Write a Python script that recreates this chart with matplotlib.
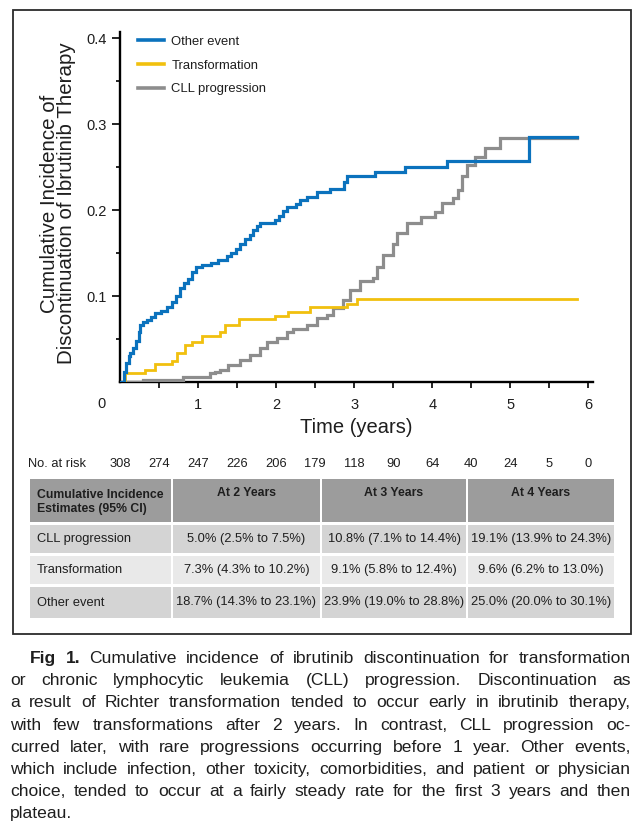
import matplotlib
matplotlib.use("Agg")
import matplotlib.pyplot as plt
import matplotlib.transforms as mtransforms
from matplotlib.patches import Rectangle
from matplotlib.lines import Line2D

# ---------------- data ----------------
other_t = [0, 0.05, 0.08, 0.11, 0.13, 0.17, 0.20, 0.24, 0.26, 0.30, 0.34, 0.40, 0.45, 0.52, 0.60,
           0.66, 0.72, 0.77, 0.82, 0.87, 0.92, 0.98, 1.05, 1.17, 1.25, 1.37, 1.42, 1.48, 1.54, 1.60,
           1.66, 1.71, 1.76, 1.80, 1.99, 2.04, 2.09, 2.14, 2.25, 2.31, 2.40, 2.52, 2.69, 2.87, 2.91,
           3.27, 3.65, 4.19, 5.24, 5.86]
other_v = [0, 0.012, 0.022, 0.030, 0.034, 0.040, 0.048, 0.058, 0.066, 0.070, 0.072, 0.076, 0.080,
           0.083, 0.087, 0.093, 0.100, 0.109, 0.115, 0.120, 0.128, 0.134, 0.136, 0.138, 0.142, 0.146,
           0.150, 0.155, 0.161, 0.166, 0.171, 0.177, 0.181, 0.185, 0.188, 0.193, 0.199, 0.204, 0.207,
           0.212, 0.215, 0.221, 0.225, 0.232, 0.239, 0.244, 0.250, 0.257, 0.285, 0.285]

transf_t = [0, 0.06, 0.32, 0.45, 0.66, 0.73, 0.83, 0.92, 1.05, 1.28, 1.35, 1.52, 1.99, 2.15, 2.44,
            2.91, 3.04, 5.86]
transf_v = [0, 0.010, 0.014, 0.021, 0.024, 0.034, 0.043, 0.047, 0.053, 0.058, 0.066, 0.073, 0.077,
            0.081, 0.087, 0.091, 0.096, 0.096]

cll_t = [0, 0.30, 0.81, 1.15, 1.22, 1.28, 1.39, 1.54, 1.67, 1.80, 1.88, 2.01, 2.14, 2.22, 2.39,
         2.52, 2.65, 2.73, 2.86, 2.95, 3.08, 3.24, 3.29, 3.37, 3.50, 3.55, 3.68, 3.85, 4.04, 4.13,
         4.27, 4.33, 4.38, 4.44, 4.55, 4.68, 4.87, 5.86]
cll_v = [0, 0.002, 0.006, 0.010, 0.012, 0.014, 0.020, 0.026, 0.031, 0.039, 0.047, 0.051, 0.058,
         0.062, 0.066, 0.074, 0.078, 0.086, 0.095, 0.107, 0.118, 0.121, 0.134, 0.148, 0.161, 0.173,
         0.185, 0.192, 0.198, 0.208, 0.214, 0.223, 0.240, 0.252, 0.262, 0.272, 0.284, 0.284]

series_names = ["Other event", "Transformation", "CLL progression"]

risk_times = [0, 0.5, 1, 1.5, 2, 2.5, 3, 3.5, 4, 4.5, 5, 5.5, 6]
risk_counts = [308, 274, 247, 226, 206, 179, 118, 90, 64, 40, 24, 5, 0]

x_ticks = [1, 2, 3, 4, 5, 6]
y_ticks = [0.1, 0.2, 0.3, 0.4]

table_header = ["Cumulative Incidence\nEstimates (95% CI)", "At 2 Years", "At 3 Years", "At 4 Years"]
table_rows = ["CLL progression", "Transformation", "Other event"]
table_cells = [
    ["5.0% (2.5% to 7.5%)", "10.8% (7.1% to 14.4%)", "19.1% (13.9% to 24.3%)"],
    ["7.3% (4.3% to 10.2%)", "9.1% (5.8% to 12.4%)", "9.6% (6.2% to 13.0%)"],
    ["18.7% (14.3% to 23.1%)", "23.9% (19.0% to 28.8%)", "25.0% (20.0% to 30.1%)"],
]

caption_lines = [
    "Fig 1. Cumulative incidence of ibrutinib discontinuation for transformation",
    "or chronic lymphocytic leukemia (CLL) progression. Discontinuation as",
    "a result of Richter transformation tended to occur early in ibrutinib therapy,",
    "with few transformations after 2 years. In contrast, CLL progression oc-",
    "curred later, with rare progressions occurring before 1 year. Other events,",
    "which include infection, other toxicity, comorbidities, and patient or physician",
    "choice, tended to occur at a fairly steady rate for the first 3 years and then",
    "plateau.",
]

# ---------------- style ----------------
FONT = ["Liberation Sans", "DejaVu Sans"]
BLUE = "#0b72bd"
YELLOW = "#f1c00e"
GRAY = "#8d8d8d"
TXT = "#1e1e1e"

W, H = 640, 831
fig = plt.figure(figsize=(W / 100, H / 100), dpi=100)

ov = fig.add_axes([0, 0, 1, 1], zorder=0)
ov.set_xlim(0, W)
ov.set_ylim(H, 0)
ov.axis("off")

def px_rect(x0, y0, x1, y1):
    return [x0 / W, 1 - y1 / H, (x1 - x0) / W, (y1 - y0) / H]

ax = fig.add_axes(px_rect(120, 32, 593, 382), zorder=2)
ax.patch.set_alpha(0)

ax.step(cll_t, cll_v, where="post", color=GRAY, lw=2.3, solid_joinstyle="miter", zorder=3)
ax.step(transf_t, transf_v, where="post", color=YELLOW, lw=2.0, solid_joinstyle="miter", zorder=4)
ax.step(other_t, other_v, where="post", color=BLUE, lw=2.3, solid_joinstyle="miter", zorder=5)

ax.set_xlim(0, 6.06)
ax.set_ylim(0, 0.407)
for s in ["top", "right"]:
    ax.spines[s].set_visible(False)
for s in ["left", "bottom"]:
    ax.spines[s].set_linewidth(1.7)
    ax.spines[s].set_color("black")

ax.set_xticks(x_ticks)
ax.set_xticklabels([str(v) for v in x_ticks], family=FONT, fontsize=10.5, color=TXT)
ax.set_xticks([t - 0.5 for t in x_ticks], minor=True)
ax.set_yticks(y_ticks)
ax.set_yticklabels([f"{v:.1f}" for v in y_ticks], family=FONT, fontsize=10.5, color=TXT)
ax.set_yticks([v - 0.05 for v in y_ticks], minor=True)
ax.tick_params(axis="x", which="both", direction="out", length=4.2, width=1.2, pad=7)
ax.tick_params(axis="y", which="major", direction="out", length=5.5, width=1.2, pad=4)
ax.tick_params(axis="y", which="minor", direction="out", length=3, width=1.2)

off0 = mtransforms.offset_copy(ax.transData, fig=fig, x=-19, y=-22, units="dots")
ax.text(0, 0, "0", transform=off0, ha="center", va="center", family=FONT, fontsize=10.5, color=TXT)

ax.set_xlabel("Time (years)", family=FONT, fontsize=14.5, color=TXT, labelpad=5)
ax.set_ylabel("Cumulative Incidence of\nDiscontinuation of Ibrutinib Therapy", family=FONT,
              fontsize=14.8, color=TXT, linespacing=0.88)
ax.yaxis.set_label_coords(-0.093, 0.51)

handles = [Line2D([], [], color=c, lw=2.6) for c in (BLUE, YELLOW, GRAY)]
leg = ax.legend(handles, series_names, loc="upper left", bbox_to_anchor=(0.038, 0.99),
                frameon=False, borderaxespad=0, borderpad=0, handlelength=2.0,
                handletextpad=0.55, labelspacing=0.9, prop={"family": FONT, "size": 9.4})
for t in leg.get_texts():
    t.set_color(TXT)

# number at risk row
blend = mtransforms.blended_transform_factory(ax.transData, ov.transData)
ov.text(28, 464, "No. at risk", ha="left", va="center", family=FONT, fontsize=9.3, color=TXT)
for t, n in zip(risk_times, risk_counts):
    ov.text(t, 464, str(n), transform=blend, ha="center", va="center", family=FONT,
            fontsize=9.3, color=TXT, clip_on=False)

# table
col_edges = [(30, 171), (173, 320), (322, 466), (468, 614)]
row_edges = [(479, 522), (525, 553), (556, 584), (587, 618)]
row_colors = ["#9c9c9c", "#d4d4d4", "#e9e9e9", "#d4d4d4"]
for r, (y0, y1) in enumerate(row_edges):
    for c, (x0, x1) in enumerate(col_edges):
        ov.add_patch(Rectangle((x0, y0), x1 - x0, y1 - y0, facecolor=row_colors[r],
                               edgecolor="none", zorder=1))
for c, (x0, x1) in enumerate(col_edges):
    if c == 0:
        ov.text(37, 502, table_header[c], ha="left", va="center", family=FONT, fontsize=8.8,
                weight="bold", color=TXT, linespacing=1.3)
    else:
        ov.text((x0 + x1) / 2, 493, table_header[c], ha="center", va="center", family=FONT,
                fontsize=8.8, weight="bold", color=TXT)
for r, name in enumerate(table_rows):
    y0, y1 = row_edges[r + 1]
    yc = (y0 + y1) / 2
    ov.text(37, yc, name, ha="left", va="center", family=FONT, fontsize=9.3, color=TXT)
    for c in range(3):
        x0, x1 = col_edges[c + 1]
        ov.text((x0 + x1) / 2, yc, table_cells[r][c], ha="center", va="center", family=FONT,
                fontsize=9.3, color=TXT)

# frame
ov.add_patch(Rectangle((12.5, 10), 618, 624, facecolor="none", edgecolor="#2b2b2b", lw=1.3, zorder=2))

# caption (justified)
renderer = fig.canvas.get_renderer()
left_x, right_x, first_x = 10, 631, 30
baseline0, step = 663, 22.2

def text_width(s, weight, fs):
    t = ov.text(0, 0, s, family=FONT, fontsize=fs, weight=weight)
    wd = t.get_window_extent(renderer).width
    t.remove()
    return wd

fs_probe = 10.0
fit = []
for i, line in enumerate(caption_lines[:-1]):
    avail = right_x - (first_x if i == 0 else left_x)
    fit.append(fs_probe * avail / text_width(line, "normal", fs_probe))
cap_fs = min(min(fit) * 0.99, 12.6)

space_w = text_width("a a", "normal", cap_fs) - 2 * text_width("a", "normal", cap_fs)
for i, line in enumerate(caption_lines):
    words = line.split(" ")
    weights = ["bold" if (i == 0 and k < 2) else "normal" for k in range(len(words))]
    widths = [text_width(w, wt, cap_fs) for w, wt in zip(words, weights)]
    x = first_x if i == 0 else left_x
    y = baseline0 + i * step
    last = i == len(caption_lines) - 1
    if last or len(words) == 1:
        gap = space_w
    else:
        gap = (right_x - x - sum(widths)) / (len(words) - 1)
    for w, wt, wd in zip(words, weights, widths):
        ov.text(x, y, w, ha="left", va="baseline", family=FONT, fontsize=cap_fs, weight=wt,
                color=TXT)
        x += wd + gap

fig.savefig("out.png", dpi=100)
